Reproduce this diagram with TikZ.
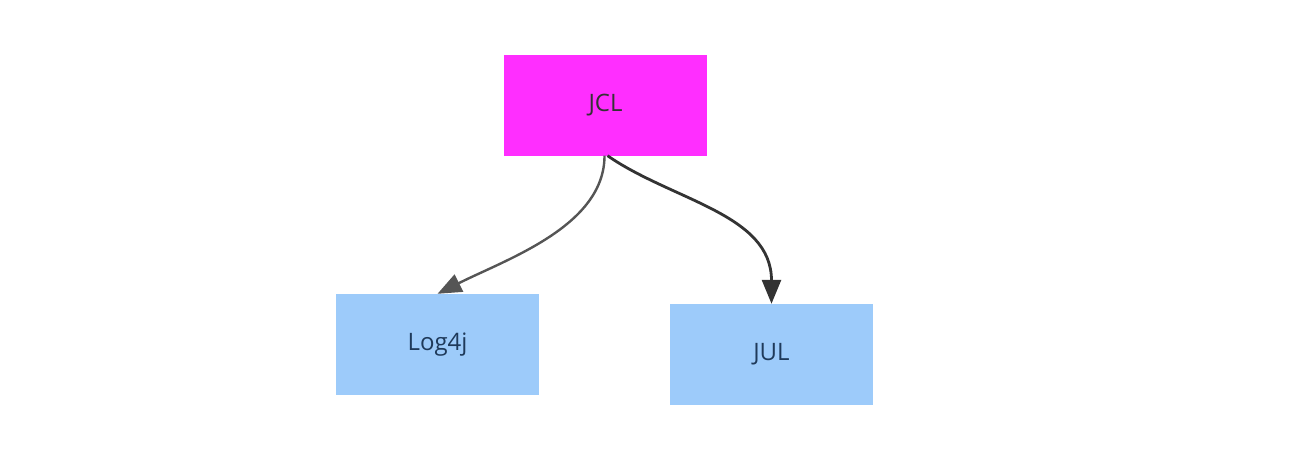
\documentclass[tikz,border=0pt]{standalone}
\usepackage{fontspec}
\setmainfont{Open Sans}
\usetikzlibrary{arrows.meta}
\definecolor{jclfill}{HTML}{FF2EFF}
\definecolor{libfill}{HTML}{9DCBFA}
\definecolor{txtdark}{HTML}{333333}
\definecolor{txtblue}{HTML}{1F3A5A}
\definecolor{edgeA}{HTML}{555555}
\definecolor{edgeB}{HTML}{333333}
\tikzset{
  box/.style={draw=none, minimum width=203pt, minimum height=101pt, inner sep=0pt, font=\fontsize{24}{28}\selectfont},
  edge/.style={-{Triangle[length=24pt,width=19pt]}, line width=2.4pt}
}
\begin{document}
\begin{tikzpicture}[x=1pt,y=-1pt]
\useasboundingbox (0,0) rectangle (1302,458);
\node[box, fill=jclfill, text=txtdark] (jcl) at (605.5,105) {\raisebox{-1.5pt}{JCL}};
\node[box, fill=libfill, text=txtblue] (log) at (437.5,344.5) {\raisebox{-1.5pt}{Log4j}};
\node[box, fill=libfill, text=txtblue] (jul) at (771.5,354.5) {\raisebox{-1.5pt}{JUL}};
\draw[edge, draw=edgeA] ([xshift=-1pt]jcl.south) .. controls +(0,70) and +(70,-35) .. (log.north);
\draw[edge, draw=edgeB, line width=2.8pt] ([xshift=2pt]jcl.south) .. controls +(65,45) and +(0,-90) .. (jul.north);
\end{tikzpicture}
\end{document}
